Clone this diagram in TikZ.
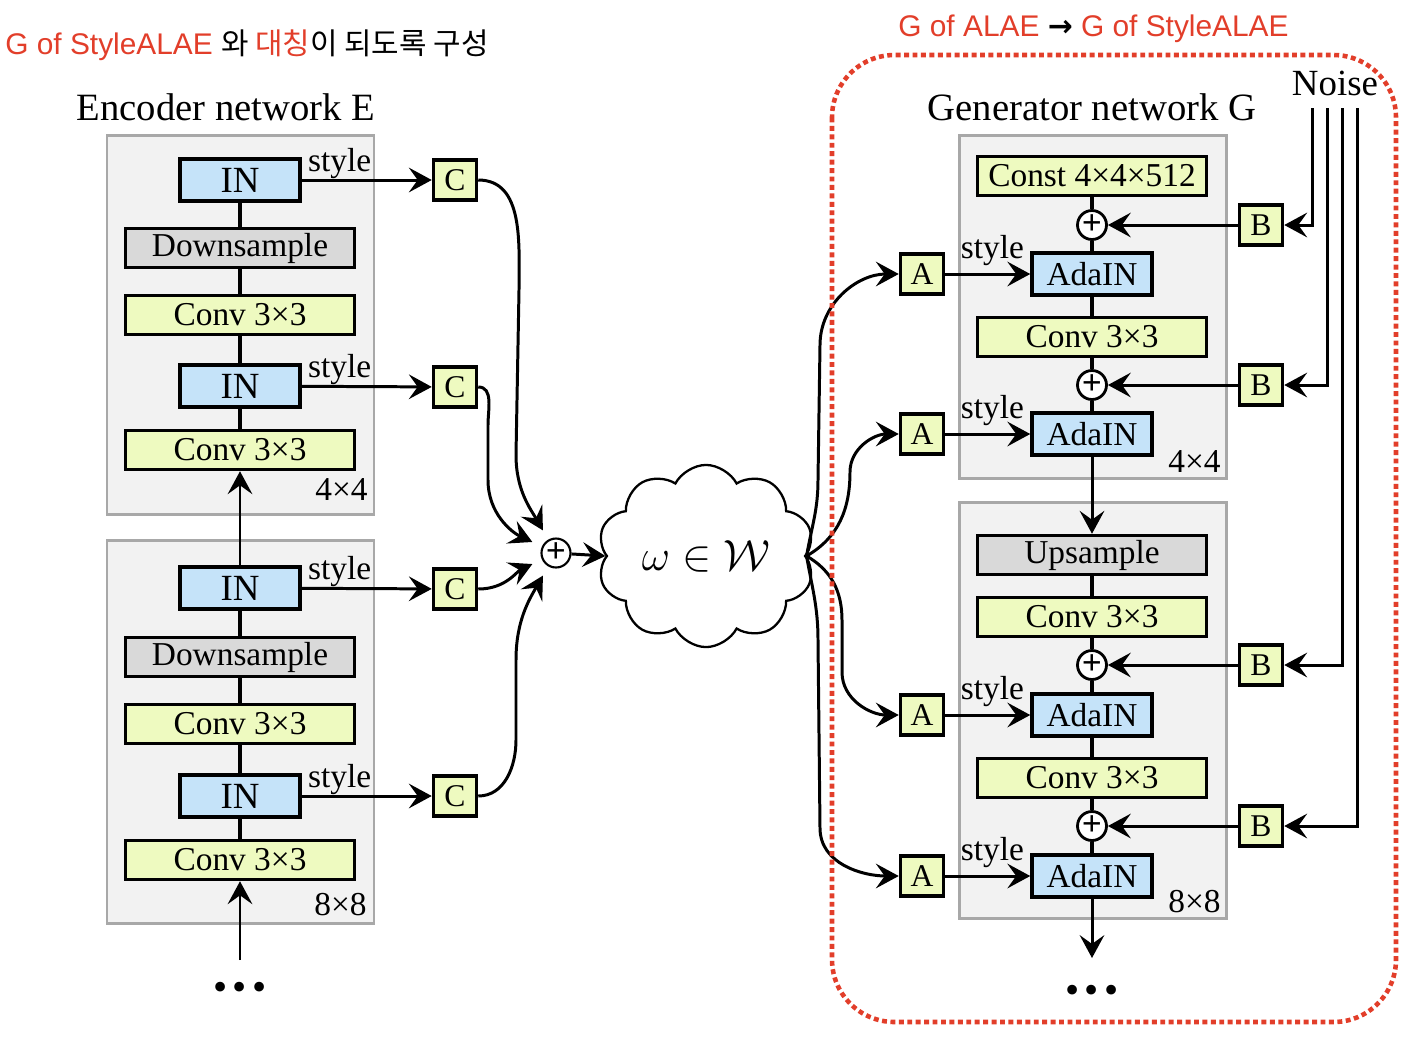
\documentclass[tikz,border=0pt]{standalone}
\usepackage{fontspec}
\setmainfont{Liberation Serif}
\setsansfont{Liberation Sans}
\newfontfamily\kofont{Noto Sans CJK KR}
\newfontfamily\symfont{DejaVu Sans}
\usetikzlibrary{arrows.meta,shapes.symbols}

\definecolor{convfill}{RGB}{238,250,192}
\definecolor{normfill}{RGB}{197,227,249}
\definecolor{sampfill}{RGB}{217,217,217}
\definecolor{stagefill}{RGB}{242,242,242}
\definecolor{stageline}{RGB}{168,168,168}
\definecolor{notered}{RGB}{226,62,42}

\tikzset{
  stagebg/.style={fill=stagefill, draw=stageline, line width=1.7pt},
  unitbox/.style={draw, line width=2pt, inner sep=0pt, font=\fontsize{19}{19}\selectfont},
  convbox/.style={unitbox, fill=convfill, minimum width=4.58cm, minimum height=0.78cm},
  sampbox/.style={unitbox, fill=sampfill, minimum width=4.58cm, minimum height=0.78cm},
  normbox/.style={unitbox, fill=normfill, minimum width=2.40cm, minimum height=0.84cm},
  inbox/.style={normbox, font=\fontsize{21}{21}\selectfont},
  smallbox/.style={unitbox, fill=convfill, minimum width=0.86cm, minimum height=0.80cm, font=\fontsize{18}{18}\selectfont},
  addop/.style={circle, draw, fill=white, line width=1.6pt, minimum size=0.58cm, inner sep=0pt, font=\bfseries\fontsize{20}{20}\selectfont},
  conn/.style={line width=2pt},
  arr/.style={-{Stealth[length=13pt,width=14pt,inset=5pt]}, line width=1.7pt},
  stylelbl/.style={inner sep=0pt, font=\fontsize{19}{19}\selectfont},
  sizelbl/.style={inner sep=0pt, anchor=base east, font=\fontsize{19}{19}\selectfont},
  nettitle/.style={inner sep=0pt, font=\fontsize{22}{22}\selectfont},
  redsans/.style={inner sep=0pt, anchor=base west, font=\sffamily\fontsize{17}{17}\selectfont},
  moredots/.style={inner sep=0pt, font=\fontsize{23}{23}\selectfont},
}

\begin{document}
\begin{tikzpicture}[x=0.02cm,y=-0.02cm]
  \pgfmathsetmacro\ex{240}    % encoder column
  \pgfmathsetmacro\gx{1092}   % generator column
  \useasboundingbox (0,0) rectangle (1421,1063);

% notes
  \node[redsans] (noteE) at (5,54) {\textcolor{notered}{G of StyleALAE} {\kofont 와 \textcolor{notered}{대칭}이 되도록 구성}};
  \node[redsans] (noteG) at (898,36) {\textcolor{notered}{G of ALAE} {\symfont\bfseries →} \textcolor{notered}{G of StyleALAE}};

% encoder network E
  \node[nettitle] (titleE) at (226,107) {Encoder network E};
  \draw[stagebg] (107,135) rectangle (374,514);
  \draw[stagebg] (107,540) rectangle (374,923);

  \node[inbox]   (IN1) at (\ex,180) {IN};
  \node[sampbox] (dn1) at (\ex,248) {Downsample};
  \node[convbox] (ec1) at (\ex,315) {Conv 3×3};
  \node[inbox]   (IN2) at (\ex,386) {IN};
  \node[convbox] (ec2) at (\ex,450) {Conv 3×3};
  \node[sizelbl] (e44) at (368,500) {4×4};

  \node[inbox]   (IN3) at (\ex,588) {IN};
  \node[sampbox] (dn2) at (\ex,657) {Downsample};
  \node[convbox] (ec3) at (\ex,724) {Conv 3×3};
  \node[inbox]   (IN4) at (\ex,796) {IN};
  \node[convbox] (ec4) at (\ex,860) {Conv 3×3};
  \node[sizelbl] (e88) at (367,915) {8×8};

  \draw[conn] (IN1) -- (dn1) -- (ec1) -- (IN2) -- (ec2);
  \draw[conn] (IN3) -- (dn2) -- (ec3) -- (IN4) -- (ec4);
  \draw[arr]  (IN3) -- (ec2);
  \coordinate (ein) at (\ex,960);
  \draw[arr]  (ein) -- (ec4);
  \node[moredots] (moreE) at (\ex,991) {•\hspace{3.2pt}•\hspace{3.2pt}•};

% styles to C
  \node[smallbox] (C1) at (455,180) {C};
  \node[smallbox] (C2) at (455,387) {C};
  \node[smallbox] (C3) at (455,589) {C};
  \node[smallbox] (C4) at (455,796) {C};
  \draw[arr] (IN1) -- (C1) node[stylelbl,pos=0,anchor=base west,xshift=2.8pt,yshift=5pt] (s1) {style};
  \draw[arr] (IN2) -- (C2) node[stylelbl,pos=0,anchor=base west,xshift=2.8pt,yshift=5pt] (s2) {style};
  \draw[arr] (IN3) -- (C3) node[stylelbl,pos=0,anchor=base west,xshift=2.8pt,yshift=5pt] (s3) {style};
  \draw[arr] (IN4) -- (C4) node[stylelbl,pos=0,anchor=base west,xshift=2.8pt,yshift=5pt] (s4) {style};

% sum into W
  \node[addop, line width=1.2pt] (sumE) at (556,553) {+};
  \draw[arr, shorten >=6pt] (C1.east) to[out=0,in=90] (519,290) -- (516,455) to[out=-90,in=120] (sumE);
  \draw[arr, shorten >=6pt] (C2.east) to[out=0,in=90] (488,425) -- (488,480) to[out=-90,in=155] (sumE);
  \draw[arr, shorten >=6pt] (C3.east) to[out=0,in=205] (sumE);
  \draw[arr, shorten >=6pt] (C4.east) to[out=0,in=-90] (516,740) -- (516,660) to[out=90,in=240] (sumE);

  \node[cloud, draw, cloud puffs=10, cloud puff arc=125, aspect=1.3, minimum width=4.1cm, minimum height=3.2cm,
        line width=1.3pt, font=\fontsize{25}{25}\selectfont] (wspace) at (706,556) {$\omega\in\mathcal{W}$};
  \draw[arr] (sumE) -- (wspace.west);

% generator network G
  \node[nettitle] (titleG) at (\gx,107) {Generator network G};
  \node[nettitle, font=\fontsize{21}{21}\selectfont] (noise) at (1335,83) {Noise};
  \draw[stagebg] (959,135) rectangle (1226,478);
  \draw[stagebg] (959,502) rectangle (1226,918);

  \node[convbox] (const) at (\gx,176) {Const 4×4×512};
  \node[addop]   (g1)    at (\gx,225) {+};
  \node[normbox] (ada1)  at (\gx,274) {AdaIN};
  \node[convbox] (gc1)   at (\gx,337) {Conv 3×3};
  \node[addop]   (g2)    at (\gx,385) {+};
  \node[normbox] (ada2)  at (\gx,434) {AdaIN};
  \node[sizelbl] (g44)   at (1221,472) {4×4};

  \node[sampbox] (up)    at (\gx,555) {Upsample};
  \node[convbox] (gc2)   at (\gx,617) {Conv 3×3};
  \node[addop]   (g3)    at (\gx,665) {+};
  \node[normbox] (ada3)  at (\gx,715) {AdaIN};
  \node[convbox] (gc3)   at (\gx,778) {Conv 3×3};
  \node[addop]   (g4)    at (\gx,826) {+};
  \node[normbox] (ada4)  at (\gx,876) {AdaIN};
  \node[sizelbl] (g88)   at (1221,912) {8×8};

  \draw[conn] (const) -- (g1) -- (ada1) -- (gc1) -- (g2) -- (ada2);
  \draw[conn] (up) -- (gc2) -- (g3) -- (ada3) -- (gc3) -- (g4) -- (ada4);
  \draw[arr]  (ada2) -- (up);
  \coordinate (gout) at (\gx,958);
  \draw[arr]  (ada4) -- (gout);
  \node[moredots] (moreG) at (\gx,994) {•\hspace{3.2pt}•\hspace{3.2pt}•};

% A boxes with styles
  \node[smallbox] (A1) at (922,274) {A};
  \node[smallbox] (A2) at (922,434) {A};
  \node[smallbox] (A3) at (922,715) {A};
  \node[smallbox] (A4) at (922,876) {A};
  \draw[arr] (A1) -- (ada1) node[stylelbl,pos=1,anchor=base east,xshift=-2.8pt,yshift=9pt] (t1) {style};
  \draw[arr] (A2) -- (ada2) node[stylelbl,pos=1,anchor=base east,xshift=-2.8pt,yshift=9pt] (t2) {style};
  \draw[arr] (A3) -- (ada3) node[stylelbl,pos=1,anchor=base east,xshift=-2.8pt,yshift=9pt] (t3) {style};
  \draw[arr] (A4) -- (ada4) node[stylelbl,pos=1,anchor=base east,xshift=-2.8pt,yshift=9pt] (t4) {style};

  \draw[arr] (wspace.east) to[out=80,in=-90] (818,480) -- (820,345) to[out=90,in=180] (A1.west);
  \draw[arr] (wspace.east) to[out=30,in=-90] (850,472) to[out=90,in=180] (A2.west);
  \draw[arr] (wspace.east) to[out=-30,in=90] (842,620) -- (842,672) to[out=-90,in=180] (A3.west);
  \draw[arr] (wspace.east) to[out=-80,in=90] (818,640) -- (820,828) to[out=-90,in=180] (A4.west);

% B boxes with noise
  \node[smallbox] (B1) at (1261,225) {B};
  \node[smallbox] (B2) at (1261,385) {B};
  \node[smallbox] (B3) at (1261,665) {B};
  \node[smallbox] (B4) at (1261,826) {B};
  \draw[arr] (B1) -- (g1);
  \draw[arr] (B2) -- (g2);
  \draw[arr] (B3) -- (g3);
  \draw[arr] (B4) -- (g4);
  \coordinate (nz1) at (1312,108);
  \coordinate (nz2) at (1327,108);
  \coordinate (nz3) at (1342,108);
  \coordinate (nz4) at (1357,108);
  \draw[arr] (nz1) |- (B1.east);
  \draw[arr] (nz2) |- (B2.east);
  \draw[arr] (nz3) |- (B3.east);
  \draw[arr] (nz4) |- (B4.east);

% G of StyleALAE frame
  \draw[notered, line width=2.6pt, dash pattern=on 2.8pt off 2pt, rounded corners=1.25cm] (832,55) rectangle (1396,1022);

\end{tikzpicture}
\end{document}
